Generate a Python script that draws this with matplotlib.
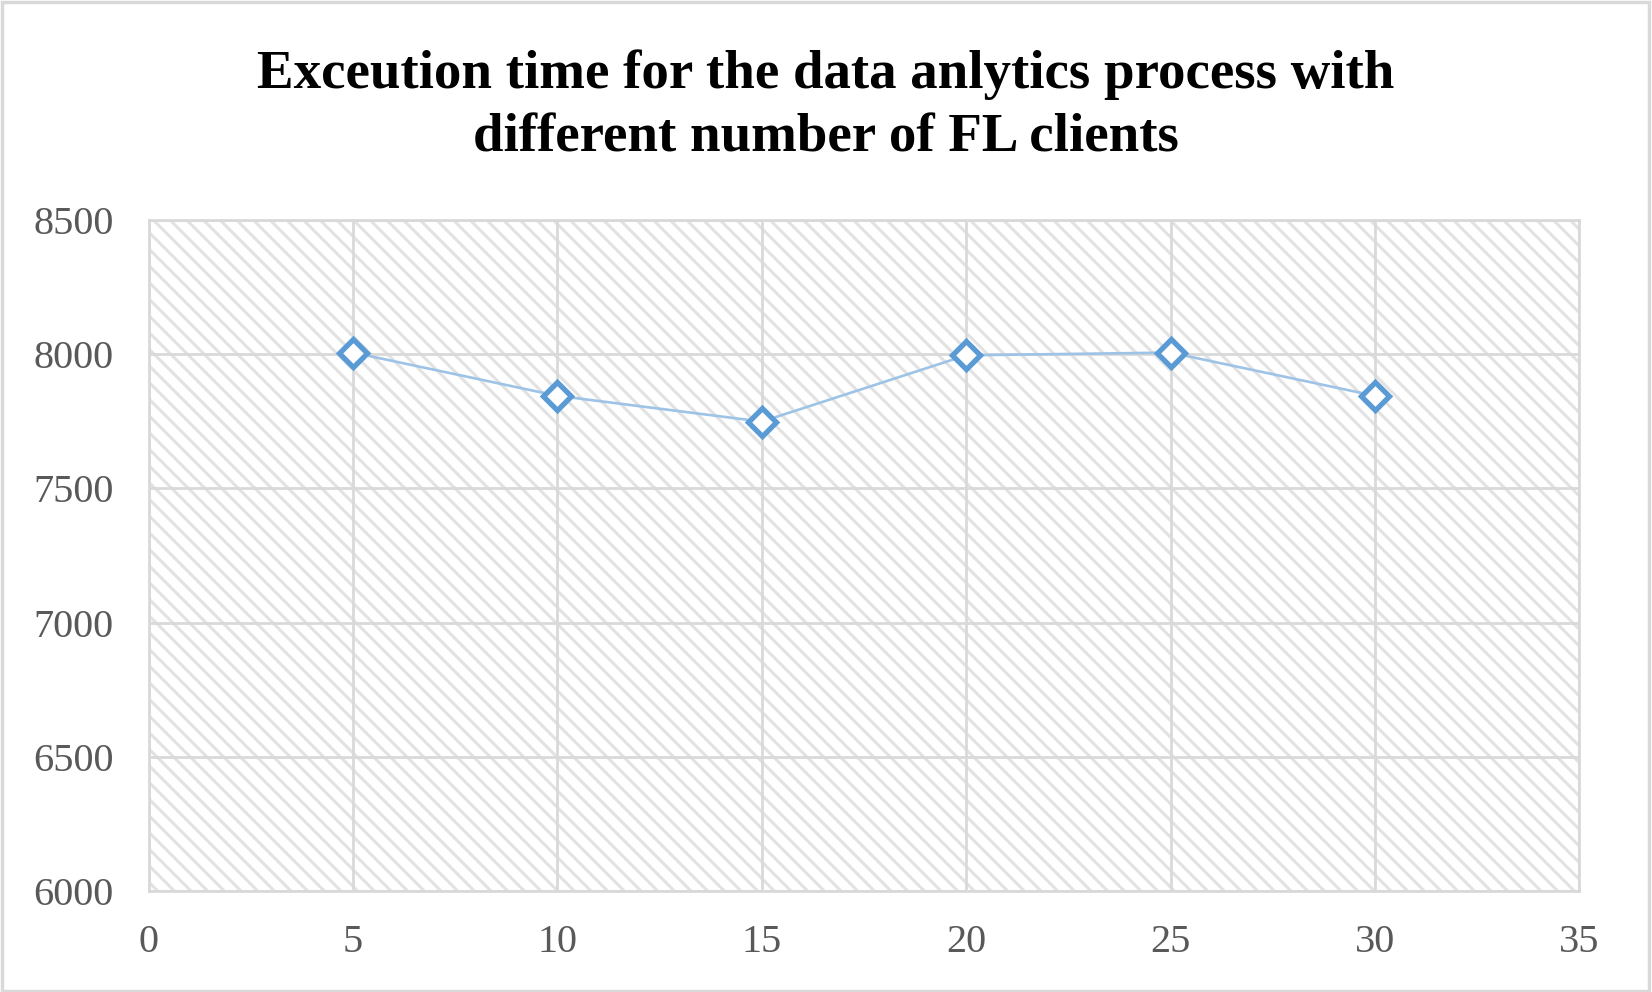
import matplotlib
matplotlib.use("Agg")
import matplotlib.pyplot as plt
from matplotlib.patches import Rectangle

# data
clients = [5, 10, 15, 20, 25, 30]
exec_time = [8006, 7845, 7749, 7996, 8006, 7845]
x_ticks = [0, 5, 10, 15, 20, 25, 30, 35]
y_ticks = [6000, 6500, 7000, 7500, 8000, 8500]
title = "Exceution time for the data anlytics process with\ndifferent number of FL clients"

grid_col = "#d9d9d9"
text_col = "#595959"

plt.rcParams['font.family'] = ['Liberation Serif', 'DejaVu Serif']
plt.rcParams['hatch.color'] = "#e2e2e2"
plt.rcParams['hatch.linewidth'] = 2.2

fig = plt.figure(figsize=(16.52, 9.92), dpi=100)
ax = fig.add_axes([0.09, 0.1018, 0.866, 0.6764])

# hatched plot area background
bg = Rectangle((0, 0), 1, 1, transform=ax.transAxes, facecolor='white',
               edgecolor="#e2e2e2", hatch='\\\\', linewidth=0, zorder=0)
ax.add_patch(bg)

ax.set_xlim(0, 35)
ax.set_ylim(6000, 8500)
ax.set_xticks(x_ticks)
ax.set_yticks(y_ticks)
ax.grid(True, color=grid_col, linewidth=2.0, zorder=1)
ax.set_axisbelow(True)
for s in ax.spines.values():
    s.set_color(grid_col)
    s.set_linewidth(2.0)
ax.tick_params(length=0, labelsize=29, labelcolor=text_col)
ax.tick_params(axis='y', pad=25)
ax.tick_params(axis='x', pad=24)

ax.plot(clients, exec_time, color='#9dc3e6', linewidth=1.9, zorder=3)
ax.plot(clients, exec_time, linestyle='none', marker='D', markersize=14.5,
        markerfacecolor='white', markeredgecolor='#5b9bd5',
        markeredgewidth=3.8, zorder=4)

fig.text(0.5, 0.8927, title, ha='center', va='center', fontsize=39.5,
         fontweight='bold', color='black', linespacing=1.36)

# outer chart border
fig.patches.append(Rectangle((0.001, 0.001), 0.997, 0.997, transform=fig.transFigure,
                             fill=False, edgecolor=grid_col, linewidth=2.5))

plt.savefig("out.png", dpi=100)
